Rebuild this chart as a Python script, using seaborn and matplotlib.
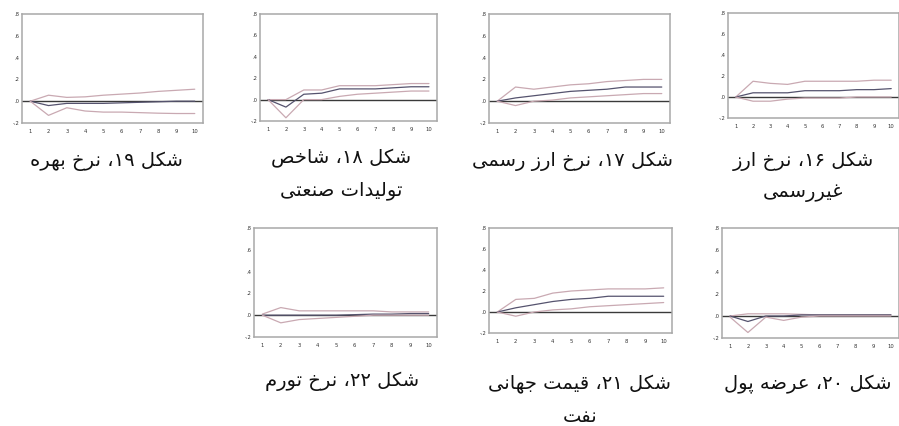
import re
import numpy as np
import pandas as pd
import matplotlib
matplotlib.use("Agg")
import matplotlib.pyplot as plt
import seaborn as sns

# ---------------- data ----------------
periods = [1, 2, 3, 4, 5, 6, 7, 8, 9, 10]
ytick_vals = [-0.2, 0.0, 0.2, 0.4, 0.6, 0.8]
ytick_labels = ["-.2", ".0", ".2", ".4", ".6", ".8"]
xtick_labels = ["1", "2", "3", "4", "5", "6", "7", "8", "9", "10"]

# Fig 19 - interest rate
rate_up = [0.0, 0.055, 0.035, 0.04, 0.055, 0.065, 0.075, 0.09, 0.10, 0.11]
rate_mid = [0.0, -0.04, -0.02, -0.02, -0.02, -0.015, -0.01, -0.005, 0.0, 0.0]
rate_lo = [0.0, -0.13, -0.06, -0.09, -0.10, -0.10, -0.105, -0.11, -0.113, -0.113]

# Fig 18 - industrial production index
ind_up = [0.0, 0.0, 0.09, 0.09, 0.13, 0.13, 0.13, 0.14, 0.15, 0.15]
ind_mid = [0.0, -0.07, 0.05, 0.06, 0.10, 0.10, 0.10, 0.11, 0.12, 0.12]
ind_lo = [0.0, -0.17, 0.0, 0.0, 0.03, 0.05, 0.06, 0.07, 0.08, 0.08]

# Fig 17 - official exchange rate
ofx_up = [0.0, 0.13, 0.11, 0.13, 0.15, 0.16, 0.18, 0.19, 0.20, 0.20]
ofx_mid = [0.0, 0.03, 0.05, 0.07, 0.09, 0.10, 0.11, 0.13, 0.13, 0.13]
ofx_lo = [0.0, -0.04, 0.0, 0.01, 0.03, 0.04, 0.05, 0.06, 0.07, 0.07]

# Fig 16 - unofficial exchange rate
ufx_up = [0.0, 0.15, 0.13, 0.12, 0.15, 0.15, 0.15, 0.15, 0.16, 0.16]
ufx_mid = [0.0, 0.04, 0.04, 0.04, 0.06, 0.06, 0.06, 0.07, 0.07, 0.08]
ufx_lo = [0.0, -0.04, -0.04, -0.02, -0.01, -0.01, -0.01, 0.0, 0.0, 0.0]

# Fig 22 - inflation
inf_up = [0.01, 0.07, 0.04, 0.04, 0.04, 0.04, 0.04, 0.03, 0.03, 0.03]
inf_mid = [0.0, 0.0, 0.0, 0.0, 0.0, 0.005, 0.01, 0.01, 0.015, 0.015]
inf_lo = [0.0, -0.07, -0.04, -0.03, -0.02, -0.01, 0.0, 0.0, 0.0, 0.0]

# Fig 21 - world oil price
oil_up = [0.0, 0.12, 0.13, 0.18, 0.20, 0.21, 0.22, 0.22, 0.22, 0.23]
oil_mid = [0.0, 0.04, 0.07, 0.10, 0.12, 0.13, 0.15, 0.15, 0.15, 0.15]
oil_lo = [0.0, -0.04, 0.0, 0.02, 0.03, 0.05, 0.06, 0.07, 0.08, 0.09]

# Fig 20 - money supply
mon_up = [0.0, 0.02, 0.02, 0.02, 0.015, 0.01, 0.01, 0.01, 0.01, 0.01]
mon_mid = [0.0, -0.05, 0.0, 0.0, 0.01, 0.01, 0.01, 0.01, 0.01, 0.01]
mon_lo = [-0.01, -0.15, -0.01, -0.04, -0.01, 0.0, 0.0, 0.0, 0.0, 0.0]

cap19 = ["شکل ۱۹، نرخ بهره"]
cap18 = ["شکل ۱۸، شاخص", "تولیدات صنعتی"]
cap17 = ["شکل ۱۷، نرخ ارز رسمی"]
cap16 = ["شکل ۱۶، نرخ ارز", "غیررسمی"]
cap22 = ["شکل ۲۲، نرخ تورم"]
cap21 = ["شکل ۲۱، قیمت جهانی", "نفت"]
cap20 = ["شکل ۲۰، عرضه پول"]

# ---------------- Persian shaping (presentation forms + RTL) ----------------
FORMS = {
    "ا": ("\uFE8D", "\uFE8E", None, None),
    "ب": ("\uFE8F", "\uFE90", "\uFE91", "\uFE92"),
    "پ": ("\uFB56", "\uFB57", "\uFB58", "\uFB59"),
    "ت": ("\uFE95", "\uFE96", "\uFE97", "\uFE98"),
    "ج": ("\uFE9D", "\uFE9E", "\uFE9F", "\uFEA0"),
    "خ": ("\uFEA5", "\uFEA6", "\uFEA7", "\uFEA8"),
    "د": ("\uFEA9", "\uFEAA", None, None),
    "ر": ("\uFEAD", "\uFEAE", None, None),
    "ز": ("\uFEAF", "\uFEB0", None, None),
    "س": ("\uFEB1", "\uFEB2", "\uFEB3", "\uFEB4"),
    "ش": ("\uFEB5", "\uFEB6", "\uFEB7", "\uFEB8"),
    "ص": ("\uFEB9", "\uFEBA", "\uFEBB", "\uFEBC"),
    "ض": ("\uFEBD", "\uFEBE", "\uFEBF", "\uFEC0"),
    "ع": ("\uFEC9", "\uFECA", "\uFECB", "\uFECC"),
    "غ": ("\uFECD", "\uFECE", "\uFECF", "\uFED0"),
    "ف": ("\uFED1", "\uFED2", "\uFED3", "\uFED4"),
    "ق": ("\uFED5", "\uFED6", "\uFED7", "\uFED8"),
    "ک": ("\uFB8E", "\uFB8F", "\uFB90", "\uFB91"),
    "ل": ("\uFEDD", "\uFEDE", "\uFEDF", "\uFEE0"),
    "م": ("\uFEE1", "\uFEE2", "\uFEE3", "\uFEE4"),
    "ن": ("\uFEE5", "\uFEE6", "\uFEE7", "\uFEE8"),
    "ه": ("\uFEE9", "\uFEEA", "\uFEEB", "\uFEEC"),
    "و": ("\uFEED", "\uFEEE", None, None),
    "ی": ("\uFBFC", "\uFBFD", "\uFBFE", "\uFBFF"),
}


def shape(text):
    out = []
    n = len(text)
    for i, ch in enumerate(text):
        if ch not in FORMS:
            out.append(ch)
            continue
        f = FORMS[ch]
        prev = text[i - 1] if i > 0 else ""
        nxt = text[i + 1] if i < n - 1 else ""
        jp = prev in FORMS and FORMS[prev][2] is not None
        jn = f[2] is not None and nxt in FORMS
        if jp and jn:
            out.append(f[3])
        elif jp:
            out.append(f[1])
        elif jn:
            out.append(f[2])
        else:
            out.append(f[0])
    shaped = "".join(out)
    tokens = re.findall(r"[0-9\u06F0-\u06F9]+|.", shaped)
    return "".join(reversed(tokens))


# ---------------- figure ----------------
sns.set_style("white")
plt.rcParams["font.family"] = ["DejaVu Sans"]

W, H = 899, 426
fig = plt.figure(figsize=(W / 100, H / 100), dpi=100)

panels = [
    # (up, mid, lo, left, right, top, bottom, caption, caption_x, caption_ys)
    (rate_up, rate_mid, rate_lo, 22, 203, 14, 123, cap19, 106, [161]),
    (ind_up, ind_mid, ind_lo, 260, 437, 14, 121, cap18, 341, [158, 190]),
    (ofx_up, ofx_mid, ofx_lo, 489, 670, 14, 123, cap17, 573, [161]),
    (ufx_up, ufx_mid, ufx_lo, 728, 899, 13, 118, cap16, 803, [161, 192]),
    (inf_up, inf_mid, inf_lo, 254, 437, 228, 337, cap22, 342, [381]),
    (oil_up, oil_mid, oil_lo, 489, 672, 228, 333, cap21, 580, [384, 416]),
    (mon_up, mon_mid, mon_lo, 722, 899, 228, 338, cap20, 808, [384]),
]

mid_color = "#55536e"
band_color = "#c9a9b2"

for up, mid, lo, l, r, t, b, cap, cx, cys in panels:
    ax = fig.add_axes([l / W, 1 - b / H, (r - l) / W, (b - t) / H])
    df = pd.DataFrame({
        "period": periods * 3,
        "value": list(up) + list(mid) + list(lo),
        "series": ["up"] * 10 + ["mid"] * 10 + ["lo"] * 10,
    })
    ax.axhline(0, color="#3a3a3a", lw=1.0, zorder=1)
    sns.lineplot(data=df, x="period", y="value", hue="series",
                 hue_order=["up", "mid", "lo"],
                 palette={"up": band_color, "mid": mid_color, "lo": band_color},
                 legend=False, ax=ax, lw=0.9, zorder=2)
    ax.set_xlim(0.55, 10.45)
    ax.set_ylim(-0.2, 0.8)
    ax.set_xticks(periods)
    ax.set_xticklabels(xtick_labels, fontsize=3.8, color="#333333")
    ax.set_yticks(ytick_vals)
    ax.set_yticklabels(ytick_labels, fontsize=3.8, color="#333333")
    ax.set_xticks([p + 0.5 for p in periods[:-1]], minor=True)
    ax.tick_params(axis="x", which="major", length=0, pad=4)
    ax.tick_params(axis="x", which="minor", length=2, direction="in", color="#888888")
    ax.tick_params(axis="y", which="major", length=2, direction="in", color="#888888", pad=1.5)
    ax.set_xlabel("")
    ax.set_ylabel("")
    for s in ax.spines.values():
        s.set_color("#a8a8a8")
        s.set_linewidth(1.1)
        s.set_visible(True)
    for line, cy in zip(cap, cys):
        fig.text(cx / W, 1 - cy / H, shape(line), ha="center", va="center",
                 fontsize=14, color="#111111", family=["DejaVu Sans"])

fig.savefig("out.png", dpi=100)
